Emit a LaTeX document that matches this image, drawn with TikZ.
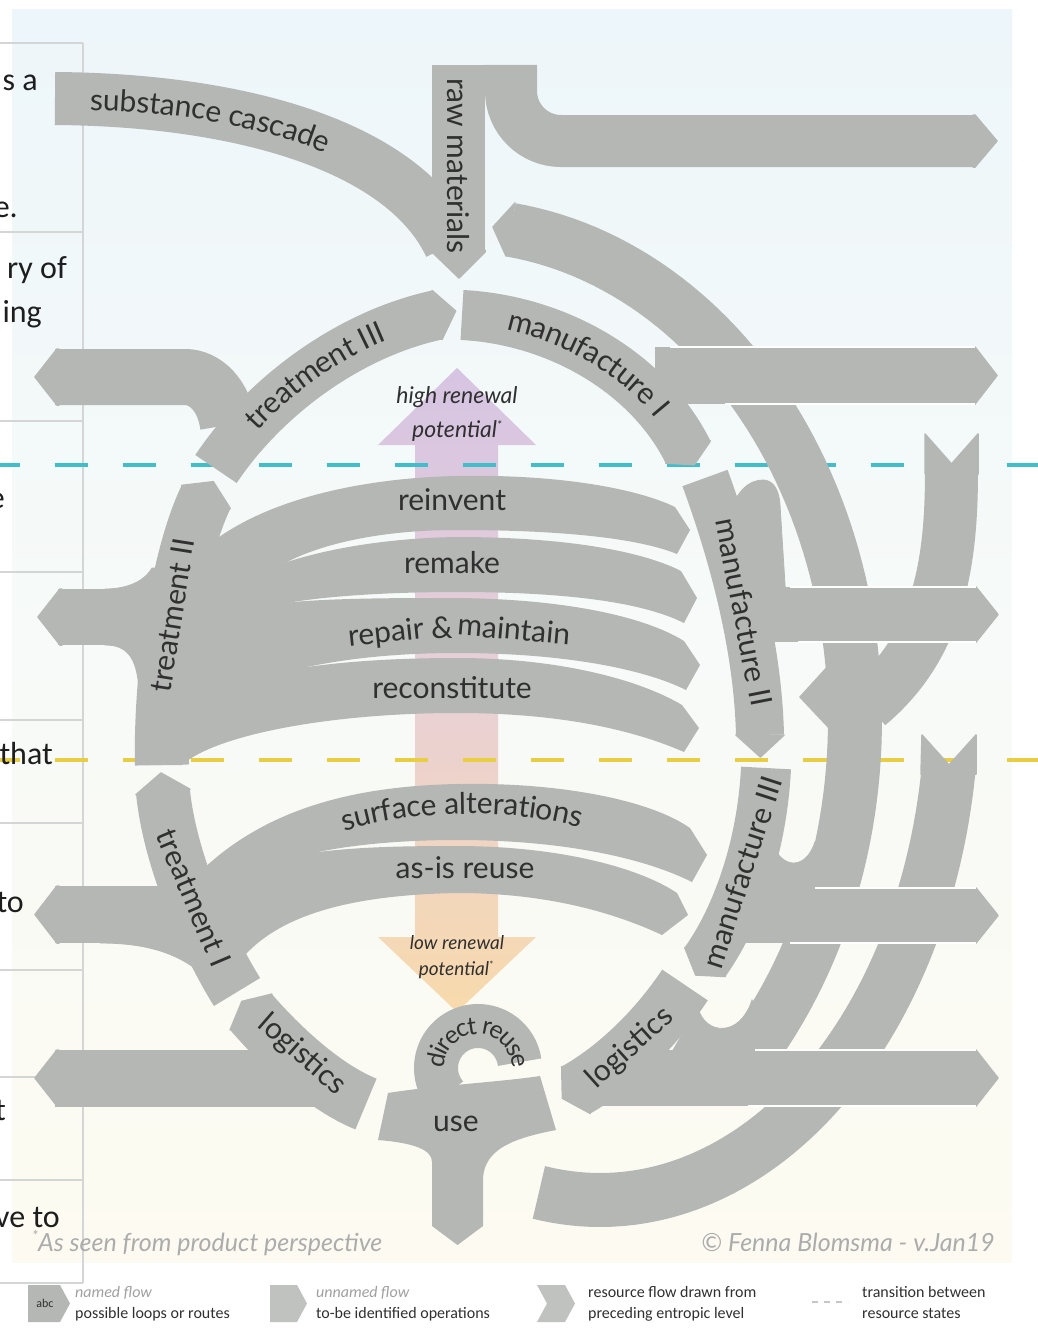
\documentclass[tikz,border=0pt]{standalone}
\usepackage{fontspec}
\setmainfont{Lato}
\newfontfamily\tblfont{Carlito}
\usetikzlibrary{decorations.text}

\definecolor{flowgray}{RGB}{181,183,180}
\definecolor{inkgray}{RGB}{48,48,48}
\definecolor{cyanline}{RGB}{64,190,202}
\definecolor{yellowline}{RGB}{232,206,64}
\definecolor{rulegray}{RGB}{212,214,214}
\definecolor{notegray}{RGB}{172,172,172}
\definecolor{legendlight}{RGB}{160,160,160}
\definecolor{tbltextcol}{RGB}{30,30,30}
\definecolor{bgtop}{RGB}{237,246,250}
\definecolor{bgmid}{RGB}{247,250,248}
\definecolor{bgbot}{RGB}{253,251,241}
\definecolor{bartop}{RGB}{214,196,226}
\definecolor{barmid}{RGB}{233,208,214}
\definecolor{barbot}{RGB}{248,218,172}

\newcommand\lblfont{\fontsize{30}{34}\selectfont}
\newcommand\reusefont{\fontsize{25}{28}\selectfont}

\begin{document}
\begin{tikzpicture}[x=1pt,y=-1pt,
  band/.style={draw=flowgray,line width=#1,line cap=butt},
  band/.default=54,
  flowtip/.style={fill=flowgray,draw=flowgray,line width=1.5pt,line join=round},
  flowpatch/.style={fill=flowgray,draw=flowgray,line width=0.8pt},
  lbl/.style={text=inkgray,font=\lblfont,inner sep=0pt},
  curvelbl/.style={decorate,decoration={text along path,text align=center,raise=-9pt,text={|\lblfont\color{inkgray}|#1}}},
  curvelblsmall/.style={decorate,decoration={text along path,text align=center,raise=-8pt,text={|\reusefont\color{inkgray}|#1}}},
  gridline/.style={draw=rulegray,line width=1.3pt},
  tbltext/.style={font=\tblfont\fontsize{32}{36}\selectfont,text=tbltextcol,anchor=base east,inner sep=0pt},
  stateline/.style={line width=4pt,dash pattern=on 33pt off 35pt,dash phase=13pt},
  seam/.style={draw=white,line width=1.2pt},
  legtext/.style={font=\tblfont\fontsize{16}{18}\selectfont,text=inkgray,anchor=base west,inner sep=0pt},
  legnote/.style={font=\tblfont\fontsize{16}{18}\selectfont\itshape,text=legendlight,anchor=base west,inner sep=0pt}
]
\useasboundingbox (0,0) rectangle (1038,1330);

% ---------- page and panel ----------
\fill[white] (0,0) rectangle (1038,1330);
\shade[top color=bgtop,bottom color=bgbot,middle color=bgmid] (12,10) rectangle (1012,1262);

% ---------- table at the left edge ----------
\draw[gridline] (83,43) -- (83,1283);
\foreach \yy in {43,232,421,572,720,823,970,1077,1180,1283}
  \draw[gridline] (0,\yy) -- (83,\yy);

% ---------- renewal potential arrow ----------
\shade[top color=bartop,bottom color=barbot,middle color=barmid]
  (415,445) -- (378,445) -- (457,368) -- (536,445) -- (498,445) -- (498,937)
  -- (536,937) -- (457,1012) -- (378,937) -- (415,937) -- cycle;

% ---------- transitions between resource states ----------
\draw[stateline,draw=cyanline] (0,465) -- (1038,465);
\draw[stateline,draw=yellowline] (0,760) -- (1038,760);

\node[tbltext] (ta) at (38,90) {s a};
\node[tbltext] (tb) at (18,217) {e.};
\node[tbltext] (tc) at (67,278) {ry of};
\node[tbltext] (td) at (42,322) {ing};
\node[tbltext] (te) at (5,508) {e};
\node[tbltext] (tf) at (53,764) {that};
\node[tbltext] (tg) at (24,912) {to};
\node[tbltext] (th) at (6,1120) {t};
\node[tbltext] (ti) at (60,1227) {ve to};

% ---------- outer flows from preceding levels ----------
\draw[band] plot[domain=-82:42,samples=80] ({455+400*cos(\x)},{720+495*sin(\x)});
\fill[flowtip] (515,203) -- (493,227) -- (506,256) -- cycle;
\fill[flowtip] (925,434) -- (951.5,464) -- (978,434) -- (978,474) -- (925,474) -- cycle;
\draw[band=53] (951.5,471) .. controls (951.5,560) and (940,645) .. (868,705);
\fill[flowtip] (922,735) -- (949,765) -- (976,735) -- (976,774) -- (921,774) -- cycle;
\draw[band] plot[domain=8:100,samples=80] ({600+352*cos(\x)},{700+500*sin(\x)});
\fill[flowtip] (832,662) -- (800,697) -- (832,731) -- cycle;

% ---------- raw materials, substance cascade, first outflow ----------
\draw[band=52] (511,65) -- (511,91) .. controls (511,118.6) and (533.4,141) .. (561,141) -- (976,141);
\fill[flowtip] (973,115) -- (975,115) -- (997,141) -- (975,167) -- (973,167) -- cycle;
\draw[band=53] (55,98.5) .. controls (250,100) and (405,150) .. (450,245);
\draw[band=53] (458.5,65) -- (458.5,253);
\fill[flowtip] (432,250) -- (485,250) -- (485,252) -- (459,278) -- (432,252) -- cycle;

% ---------- outflows to the right ----------
\draw[band=57] (655,375.5) -- (976,375.5);
\fill[flowtip] (973,347) -- (975,347) -- (997,375.5) -- (975,404) -- (973,404) -- cycle;
\fill[flowpatch] (722,600) -- (728,520) .. controls (735,490) and (750,480) .. (763,480)
  .. controls (772,480) and (779,488) .. (780,505) -- (786,600) -- cycle;
\draw[band=55] (740,614.5) -- (977,614.5);
\fill[flowtip] (974,587) -- (976,587) -- (998,614.5) -- (976,642) -- (974,642) -- cycle;
\fill[flowpatch] (758,895) -- (772,842) .. controls (780,868) and (805,872) .. (815,842) -- (835,895) -- cycle;
\draw[band=55] (745,915.5) -- (977,915.5);
\fill[flowtip] (974,888) -- (976,888) -- (998,915.5) -- (976,943) -- (974,943) -- cycle;
\fill[flowpatch] (670,1055) -- (698,1008) .. controls (705,1035) and (740,1038) .. (752,1000) -- (770,1055) -- cycle;
\draw[band=56] (600,1078) -- (977,1078);
\fill[flowtip] (974,1050) -- (976,1050) -- (998,1078) -- (976,1106) -- (974,1106) -- cycle;

\draw[seam] (670,347) -- (975,347) (725,404) -- (975,404);
\draw[seam] (790,587) -- (976,587) (798,642) -- (976,642);
\draw[seam] (815,888) -- (976,888) (790,943) -- (976,943);
\draw[seam] (755,1050) -- (976,1050) (748,1106) -- (976,1106);

% ---------- the ring of named flows ----------
% treatment III
\draw[band=50] (216,469) .. controls (262,400) and (345,335) .. (437,315);
\fill[flowtip] (432,290.5) -- (455.6,311) -- (442,339.5) -- cycle;
% manufacture I
\draw[band=50] (462,315) .. controls (560,320) and (650,375) .. (688,452);
\fill[flowtip] (710.4,440.9) -- (694.2,464.6) -- (665.6,463.1) -- cycle;
% manufacture II
\draw[band=48] (705,478) .. controls (735,560) and (758,650) .. (760,735);
\fill[flowtip] (736,735) -- (760.4,757) -- (784,735) -- cycle;
% manufacture III
\draw[band=50] (766,768) .. controls (762,850) and (735,920) .. (705,962);
\fill[flowtip] (725.3,976.5) -- (695.7,975) -- (684.8,947.5) -- cycle;
% logistics towards use
\draw[band=55] (685,985) .. controls (655,1030) and (615,1068) .. (576,1090);
\fill[flowtip] (590.3,1113.5) -- (562.4,1098.3) -- (561.7,1066.5) -- cycle;
% logistics away from use
\draw[band=55] (366,1104) .. controls (326,1088) and (282,1048) .. (251,1012);
\fill[flowtip] (271.9,994.1) -- (241.9,1001.4) -- (230.1,1029.9) -- cycle;
% treatment I
\draw[band=54] (237,992) .. controls (205,940) and (170,860) .. (163,792);
\fill[flowtip] (190,789.3) -- (161,773) -- (136,794.7) -- cycle;
% treatment II
\draw[band=54] (162,765) .. controls (160,680) and (176,560) .. (206,497);
\fill[flowtip] (230.3,508.6) -- (213.3,481.7) -- (181.7,485.4) -- cycle;

% ---------- outflows to the left ----------
\draw[band=56] (55,377) -- (185,377) .. controls (205,377) and (224,395) .. (228,425);
\fill[flowtip] (59,349) -- (57,349) -- (35,377) -- (57,405) -- (59,405) -- cycle;
\draw[band=56] (58,617) -- (160,617);
\fill[flowtip] (62,589) -- (60,589) -- (38,617) -- (60,645) -- (62,645) -- cycle;
\fill[flowpatch] (105,645) .. controls (126,645) and (137,656) .. (139,690) -- (160,690) -- (160,635) -- (105,635) -- cycle;
\fill[flowpatch] (105,589) .. controls (126,589) and (144,582) .. (152,568) -- (165,568) -- (165,600) -- (105,600) -- cycle;
\draw[band=57] (55,914.5) -- (185,914.5);
\fill[flowtip] (59,886) -- (57,886) -- (35,914.5) -- (57,943) -- (59,943) -- cycle;
\fill[flowpatch] (100,943) .. controls (160,943) and (195,960) .. (222,995) -- (215,930) -- cycle;
\draw[band=57] (55,1078) -- (325,1078);
\fill[flowtip] (59,1050) -- (57,1050) -- (35,1078) -- (57,1106) -- (59,1106) -- cycle;

% ---------- loops through treatment II ----------
\fill[flowgray] (200,552) .. controls (258,500) and (360,478) .. (457,476)
  .. controls (560,474) and (638,489) .. (675,507) -- (690,530) -- (677,554)
  .. controls (638,538) and (560,530) .. (457,530) .. controls (380,530) and (322,544) .. (287,562)
  -- (195,610) -- cycle;
\fill[flowgray] (287,562) .. controls (330,548) and (390,538) .. (457,537)
  .. controls (560,537) and (640,550) .. (681,571) -- (697,598) -- (684,623)
  .. controls (640,601) and (560,592) .. (457,592) .. controls (390,592) and (330,596) .. (293,602)
  -- (190,640) -- (195,600) -- cycle;
\fill[flowgray] (293,602) .. controls (340,598) and (400,598) .. (457,598)
  .. controls (560,599) and (642,615) .. (684,641) -- (700,665) -- (686,690)
  .. controls (642,668) and (560,653) .. (457,653) .. controls (400,653) and (350,658) .. (307,667)
  -- (185,690) -- (190,630) -- cycle;
\fill[flowgray] (307,667) .. controls (350,661) and (400,658) .. (457,658)
  .. controls (560,658) and (640,680) .. (682,705) -- (699,728) -- (684,752)
  .. controls (620,724) and (540,713) .. (457,713) .. controls (330,713) and (215,735) .. (182,765)
  -- (150,765) -- (165,660) -- cycle;

% ---------- loops through treatment I ----------
\fill[flowgray] (200,872) .. controls (268,806) and (360,786) .. (457,784)
  .. controls (560,782) and (650,800) .. (690,828) -- (707,855) -- (692,882)
  .. controls (642,857) and (560,840) .. (457,840) .. controls (400,840) and (352,845) .. (318,852)
  -- (195,920) -- cycle;
\fill[flowgray] (318,852) .. controls (360,847) and (400,846) .. (457,846)
  .. controls (560,846) and (640,868) .. (677,893) -- (688,915) -- (662,935)
  .. controls (600,906) and (530,893) .. (457,893) .. controls (350,895) and (282,915) .. (245,955)
  -- (205,945) -- (198,890) -- cycle;

% ---------- use and direct reuse ----------
\fill[flowgray] (388,1093) .. controls (430,1086) and (500,1082) .. (540,1076) -- (556,1130)
  .. controls (515,1138) and (485,1148) .. (483,1178) -- (483,1226) -- (457.5,1245)
  -- (432,1226) -- (432,1162) .. controls (432,1150) and (415,1143) .. (378,1140) -- cycle;
\draw[band=44] plot[domain=140:352,samples=60] ({478+42*cos(\x)},{1068+42*sin(\x)});

% ---------- labels of named flows ----------
\path[curvelbl={substance cascade}] (72,101) .. controls (170,101) and (268,116) .. (345,152);
\path[curvelbl={treatment III}] (216,469) .. controls (262,400) and (345,335) .. (437,315);
\path[curvelbl={manufacture I}] (462,315) .. controls (560,320) and (650,375) .. (688,452);
\path[curvelbl={surface alterations}] (326,828) .. controls (400,800) and (520,796) .. (598,824);
\path[curvelblsmall={direct reuse}] plot[domain=145:395,samples=90] ({478+42*cos(\x)},{1068+42*sin(\x)});

\node[lbl,rotate=-90] (rawlbl) at (458.5,166) {raw materials};
\node[lbl,rotate=-79] (man2lbl) at (744,612) {manufacture II};
\node[lbl,rotate=72] (man3lbl) at (742,872) {manufacture III};
\node[lbl,rotate=42] (logrlbl) at (630,1048) {logistics};
\node[lbl,rotate=-41] (logllbl) at (302,1055) {logistics};
\node[lbl,rotate=-67] (tr1lbl) at (194,898) {treatment I};
\node[lbl,rotate=81] (tr2lbl) at (172,615) {treatment II};
\node[lbl] (uselbl) at (456,1124) {use};
\node[lbl] (reinventlbl) at (452,500) {reinvent};
\node[lbl] (remakelbl) at (452,563) {remake};
\node[lbl,rotate=6] (repairlbl) at (386,634) {repair};
\node[lbl] (amplbl) at (442,628) {\&};
\node[lbl,rotate=-5] (maintainlbl) at (514,629) {maintain};
\node[lbl] (reconlbl) at (452,688) {reconstitute};
\node[lbl] (asislbl) at (465,868) {as-is reuse};

% ---------- renewal potential captions ----------
\node[font=\fontsize{23}{26}\selectfont\itshape,text=inkgray,inner sep=0pt] (hi1) at (457,397) {high renewal};
\node[font=\fontsize{23}{26}\selectfont\itshape,text=inkgray,inner sep=0pt] (hi2) at (457,431) {potential\raisebox{0.35em}{\fontsize{12}{12}\selectfont *}};
\node[font=\fontsize{19}{22}\selectfont\itshape,text=inkgray,inner sep=0pt] (lo1) at (457,943) {low renewal};
\node[font=\fontsize{19}{22}\selectfont\itshape,text=inkgray,inner sep=0pt] (lo2) at (456,970) {potential\raisebox{0.35em}{\fontsize{10}{10}\selectfont *}};

% ---------- footer ----------
\node[anchor=base west,font=\fontsize{25}{28}\selectfont\itshape,text=notegray,inner sep=0pt] (note) at (32,1251)
  {\raisebox{0.4em}{\fontsize{15}{15}\selectfont *}As seen from product perspective};
\node[anchor=base east,font=\fontsize{25}{28}\selectfont\itshape,text=notegray,inner sep=0pt] (credit) at (995,1251)
  {\textcopyright\ Fenna Blomsma - v.Jan19};

% ---------- legend ----------
\fill[flowgray] (28,1285) -- (60,1285) -- (70,1303.5) -- (60,1322) -- (28,1322) -- cycle;
\node[font=\tblfont\fontsize{12}{12}\selectfont,text=inkgray,inner sep=0pt] (abc) at (45,1303) {abc};
\node[legnote] (leg1a) at (75,1297) {named flow};
\node[legtext] (leg1b) at (75,1318) {possible loops or routes};
\fill[flowgray!85] (270,1285) -- (297,1285) -- (307,1303.5) -- (297,1322) -- (270,1322) -- cycle;
\node[legnote] (leg2a) at (316,1297) {unnamed flow};
\node[legtext] (leg2b) at (316,1318) {to-be identified operations};
\fill[flowgray!85] (537,1285) -- (565,1285) -- (575,1303.5) -- (565,1322) -- (537,1322) -- (547,1303.5) -- cycle;
\node[legtext] (leg3a) at (588,1297) {resource flow drawn from};
\node[legtext] (leg3b) at (588,1318) {preceding entropic level};
\draw[legendlight!60,line width=1.5pt,dash pattern=on 6pt off 6pt] (812,1302) -- (848,1302);
\node[legtext] (leg4a) at (862,1297) {transition between};
\node[legtext] (leg4b) at (862,1318) {resource states};
\end{tikzpicture}
\end{document}
